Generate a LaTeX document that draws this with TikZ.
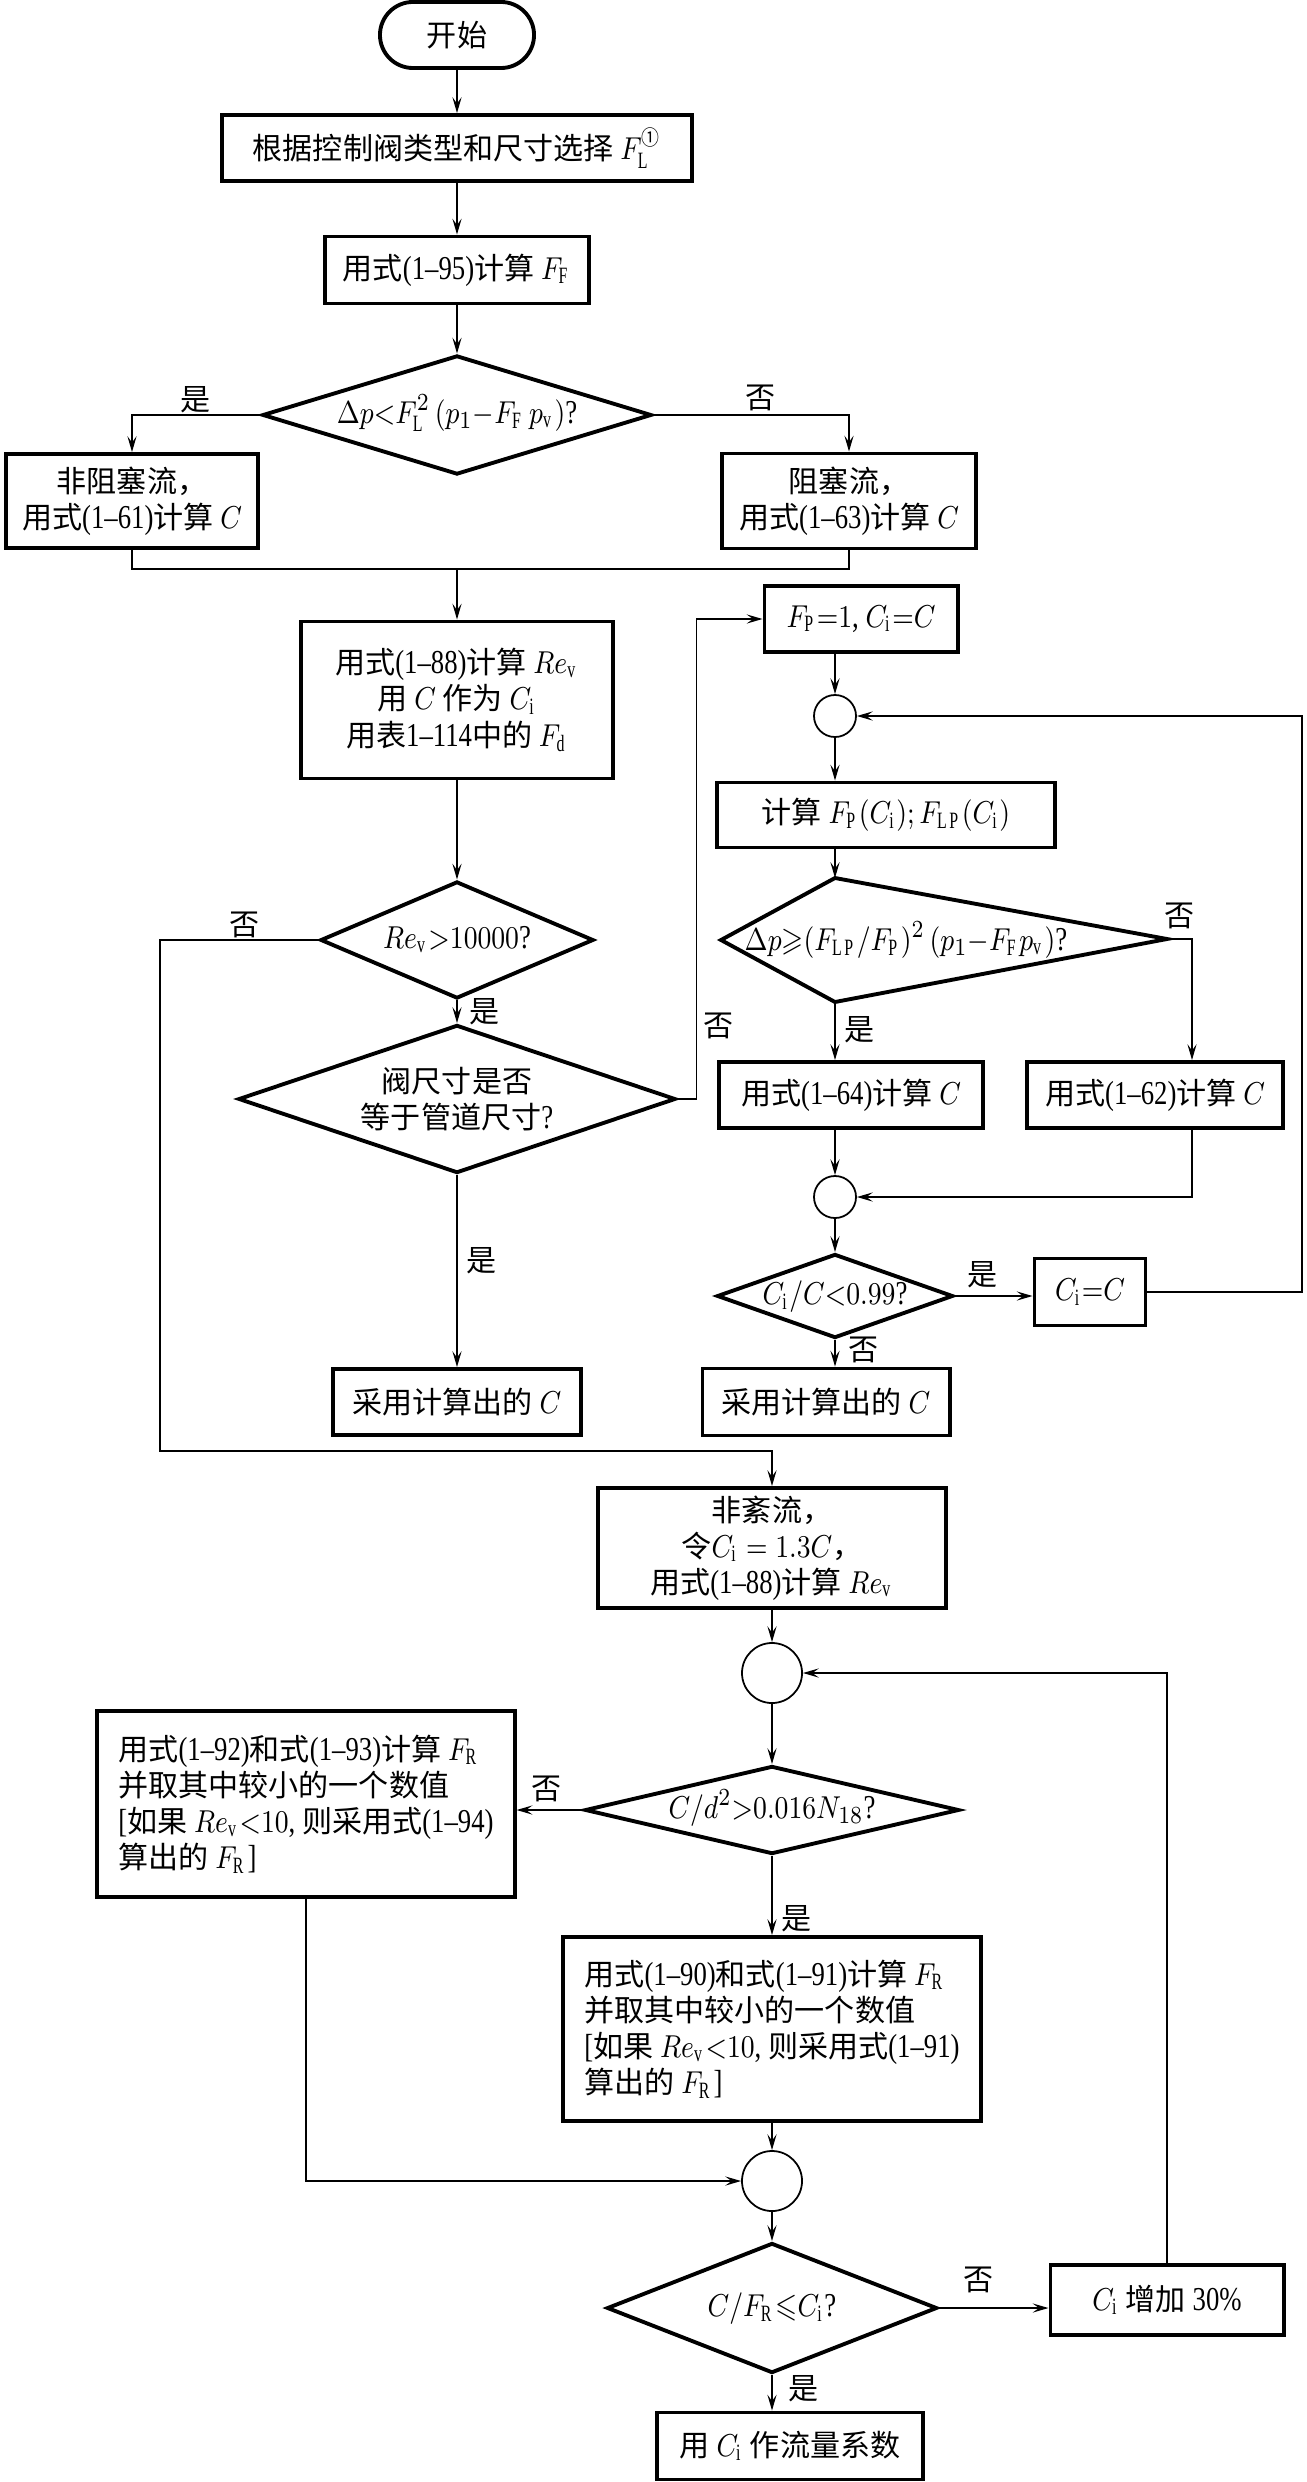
\documentclass[tikz,border=0pt]{standalone}
\usepackage{fontspec}
\usepackage{amsmath}
\usepackage{amssymb}
\usepackage{tikz}
\usetikzlibrary{shapes.geometric, arrows.meta, positioning, calc}
\setmainfont{Liberation Serif}[FakeStretch=0.8]
\newfontfamily\zh{Noto Sans CJK SC}[Scale=0.9]
\newcommand\mth[1]{\scalebox{0.85}[1]{$#1$}}
\tikzset{
  block/.style={rectangle, draw=black, line width=1.1pt, align=center,
    inner sep=1pt, font=\fontsize{9.5}{10.3}\selectfont},
  leftblock/.style={block, align=left},
  terminal/.style={block, rounded corners=0.33cm},
  decision/.style={diamond, draw=black, line width=1.1pt, align=center,
    inner sep=0pt, font=\fontsize{9.5}{10.3}\selectfont},
  flat/.style={text height=1.4ex, text depth=0.3ex},
  joint/.style={circle, draw=black, line width=0.5pt, inner sep=0pt},
  lbl/.style={font=\fontsize{9.5}{10}\selectfont\zh, inner sep=0pt},
  arrow/.style={-{Stealth[length=4.5pt, width=2.6pt, inset=1.8pt]}, line width=0.5pt},
  line/.style={line width=0.5pt}
}

\begin{document}
\begin{tikzpicture}[x=0.01cm, y=-0.01cm]
  \useasboundingbox (0,0) rectangle (1306,2482);

  % Upper column
  \node[terminal, minimum width=1.54cm, minimum height=0.66cm] (start) at (457,35) {\zh 开始};
  \node[block, minimum width=4.70cm, minimum height=0.66cm] (fl) at (457,148)
    {{\zh 根据控制阀类型和尺寸选择} \mth{F_{\mathrm{L}}^{\text{\zh ①}}}};
  \node[block, minimum width=2.63cm, minimum height=0.67cm] (ff) at (457,270)
    {{\zh 用式}(1–95){\zh 计算} \mth{F_{\mathrm{F}}}};
  \node[decision, flat, aspect=3.27, minimum width=3.89cm, minimum height=1.19cm] (d1) at (457,415)
    {\mth{\Delta p{<}F_{\mathrm{L}}^{2}\,(p_1{-}F_{\mathrm{F}}\,p_{\mathrm{v}})}?};
  \node[block, minimum width=2.51cm, minimum height=0.94cm] (nonch) at (132,501)
    {{\zh 非阻塞流，}\\{\zh 用式}(1–61){\zh 计算} \mth{C}};
  \node[block, minimum width=2.54cm, minimum height=0.95cm] (chok) at (849,501)
    {{\zh 阻塞流，}\\{\zh 用式}(1–63){\zh 计算} \mth{C}};
  \coordinate (mrg) at (457,569);
  \node[block, minimum width=3.11cm, minimum height=1.57cm] (rebox) at (457,700)
    {{\zh 用式}(1–88){\zh 计算} \mth{Re_{\mathrm{v}}}\\{\zh 用} \mth{C} {\zh 作为} \mth{C_{\mathrm{i}}}\\{\zh 用表}1–114{\zh 中的} \mth{F_{\mathrm{d}}}};
  \node[decision, flat, aspect=2.33, minimum width=2.73cm, minimum height=1.17cm] (dre) at (457,940)
    {\mth{Re_{\mathrm{v}}{>}10000}?};
  \node[decision, aspect=2.95, minimum width=4.37cm, minimum height=1.48cm] (dsize) at (457,1099)
    {{\zh 阀尺寸是否}\\{\zh 等于管道尺寸}?};
  \node[block, minimum width=2.47cm, minimum height=0.66cm] (usec1) at (457,1402)
    {{\zh 采用计算出的} \mth{C}};

  % Right column
  \node[block, minimum width=1.93cm, minimum height=0.66cm] (fp) at (861,619)
    {\mth{F_{\mathrm{P}}{=}1}, \mth{C_{\mathrm{i}}{=}C}};
  \node[joint, minimum size=0.42cm] (circ1) at (835,716) {};
  \node[block, minimum width=3.38cm, minimum height=0.65cm] (calc) at (886,815)
    {{\zh 计算} \mth{F_{\mathrm{P}}(C_{\mathrm{i}});F_{\mathrm{LP}}(C_{\mathrm{i}})}};
  \coordinate (d2t) at (835,878);
  \coordinate (d2r) at (1167,939);
  \coordinate (d2b) at (835,1002);
  \coordinate (d2l) at (721,940);
  \draw[line width=1.1pt, line join=miter] (d2t) -- (d2r) -- (d2b) -- (d2l) -- cycle;
  \node[font=\fontsize{9.5}{10.3}\selectfont, inner sep=0pt, anchor=west] (d2txt) at (744,940)
    {\mth{\Delta p{\geqslant}(F_{\mathrm{LP}}/F_{\mathrm{P}})^2\,(p_1{-}F_{\mathrm{F}}p_{\mathrm{v}})}?};
  \node[block, minimum width=2.64cm, minimum height=0.66cm] (b64) at (851,1095)
    {{\zh 用式}(1–64){\zh 计算} \mth{C}};
  \node[block, minimum width=2.56cm, minimum height=0.66cm] (b62) at (1155,1095)
    {{\zh 用式}(1–62){\zh 计算} \mth{C}};
  \node[joint, minimum size=0.42cm] (circ2) at (835,1197) {};
  \node[decision, flat, aspect=2.8, minimum width=2.36cm, minimum height=0.84cm] (d3) at (835,1296)
    {\mth{C_{\mathrm{i}}/C{<}0.99}?};
  \node[block, minimum width=1.11cm, minimum height=0.67cm] (cic) at (1090,1292)
    {\mth{C_{\mathrm{i}}{=}C}};
  \node[block, minimum width=2.47cm, minimum height=0.67cm] (usec2) at (826,1402)
    {{\zh 采用计算出的} \mth{C}};
  \coordinate (rr) at (1302,716);

  % Lower column
  \coordinate (lft) at (160,1451);
  \node[block, minimum width=3.48cm, minimum height=1.20cm] (nonturb) at (772,1548)
    {{\zh 非紊流，}\\{\zh 令}\mth{C_{\mathrm{i}}=1.3C}{\zh ，}\\{\zh 用式}(1–88){\zh 计算} \mth{Re_{\mathrm{v}}}};
  \node[joint, minimum size=0.60cm] (circ3) at (772,1673) {};
  \node[decision, flat, aspect=4.25, minimum width=3.74cm, minimum height=0.88cm] (d4) at (772,1810)
    {\mth{C/d^2{>}0.016N_{18}}?};
  \node[leftblock, minimum width=4.17cm, minimum height=1.86cm] (frl) at (306,1804)
    {{\zh 用式}(1–92){\zh 和式}(1–93){\zh 计算} \mth{F_{\mathrm{R}}}\\{\zh 并取其中较小的一个数值}\\{[}{\zh 如果} \mth{Re_{\mathrm{v}}{<}10}, {\zh 则采用式}(1–94)\\{\zh 算出的} \mth{F_{\mathrm{R}}}]};
  \node[leftblock, minimum width=4.18cm, minimum height=1.84cm] (frr) at (772,2029)
    {{\zh 用式}(1–90){\zh 和式}(1–91){\zh 计算} \mth{F_{\mathrm{R}}}\\{\zh 并取其中较小的一个数值}\\{[}{\zh 如果} \mth{Re_{\mathrm{v}}{<}10}, {\zh 则采用式}(1–91)\\{\zh 算出的} \mth{F_{\mathrm{R}}}]};
  \node[joint, minimum size=0.60cm] (circ4) at (772,2181) {};
  \node[decision, flat, aspect=2.54, minimum width=3.30cm, minimum height=1.30cm] (d5) at (772,2308)
    {\mth{C/F_{\mathrm{R}}{\leqslant}C_{\mathrm{i}}}?};
  \node[block, minimum width=2.33cm, minimum height=0.70cm] (inc) at (1167,2300)
    {\mth{C_{\mathrm{i}}} {\zh 增加} 30\%};
  \node[block, minimum width=2.66cm, minimum height=0.67cm] (final) at (790,2446)
    {{\zh 用} \mth{C_{\mathrm{i}}} {\zh 作流量系数}};

  % Yes / no labels
  \node[lbl] (y1) at (196,400) {是};
  \node[lbl] (n1) at (761,398) {否};
  \node[lbl] (n2) at (245,925) {否};
  \node[lbl] (y2) at (485,1012) {是};
  \node[lbl] (n3) at (719,1026) {否};
  \node[lbl] (y3) at (482,1261) {是};
  \node[lbl] (n4) at (1180,916) {否};
  \node[lbl] (y4) at (860,1030) {是};
  \node[lbl] (y5) at (983,1275) {是};
  \node[lbl] (n5) at (864,1350) {否};
  \node[lbl] (n6) at (547,1789) {否};
  \node[lbl] (y6) at (797,1919) {是};
  \node[lbl] (n7) at (979,2280) {否};
  \node[lbl] (y7) at (804,2389) {是};

  % Connectors
  \draw[arrow] (start) -- (fl);
  \draw[arrow] (fl) -- (ff);
  \draw[arrow] (ff) -- (d1);
  \draw[arrow] (d1.west) -| (nonch.north);
  \draw[arrow] (d1.east) -| (chok.north);
  \draw[line] (nonch.south) |- (mrg) -| (chok.south);
  \draw[arrow] (mrg) -- (rebox.north);
  \draw[arrow] (rebox) -- (dre);
  \draw[arrow] (dre) -- (dsize);
  \draw[arrow] (dsize) -- (usec1);
  \draw[arrow] (dre.west) -| (lft) -| (nonturb.north);
  \draw[arrow] (dsize.east) -- ++(19,0) |- (fp.west);
  \draw[arrow] (fp.south -| circ1.north) -- (circ1.north);
  \draw[arrow] (circ1.south) -- (circ1.south |- calc.north);
  \draw[arrow] (calc.south -| d2t) -- (d2t);
  \draw[arrow] (d2b) -- (d2b |- b64.north);
  \draw[arrow] (d2r) -- ++(25,0) coordinate (k62) -- (k62 |- b62.north);
  \draw[arrow] (b64.south -| circ2.north) -- (circ2.north);
  \draw[arrow] (k62 |- b62.south) |- (circ2.east);
  \draw[arrow] (circ2) -- (d3);
  \draw[arrow] (d3.east) -- (d3.east -| cic.west);
  \draw[arrow] (d3.south) -- (d3.south |- usec2.north);
  \draw[arrow] (cic.east) -| (rr) -- (circ1.east);
  \draw[arrow] (nonturb) -- (circ3);
  \draw[arrow] (circ3) -- (d4);
  \draw[arrow] (d4.west) -- (d4.west -| frl.east);
  \draw[arrow] (d4) -- (frr);
  \draw[arrow] (frl.south) |- (circ4.west);
  \draw[arrow] (frr) -- (circ4);
  \draw[arrow] (circ4) -- (d5);
  \draw[arrow] (d5.east) -- (d5.east -| inc.west);
  \draw[arrow] (d5.south) -- (d5.south |- final.north);
  \draw[arrow] (inc.north) |- (circ3.east);
\end{tikzpicture}
\end{document}
